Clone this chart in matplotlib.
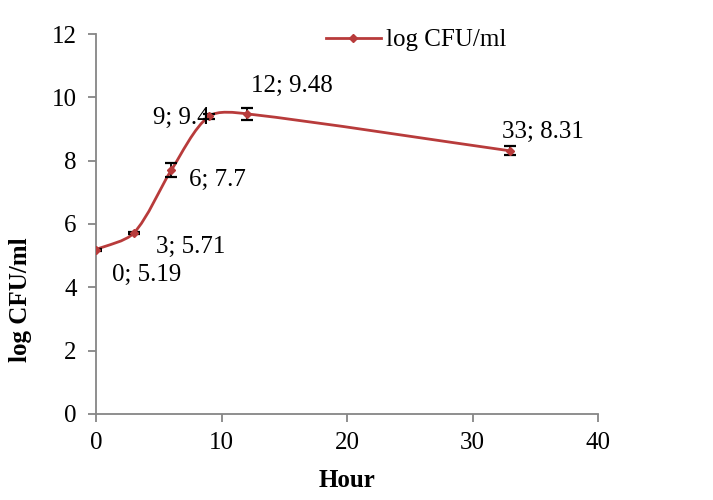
import numpy as np
import matplotlib
matplotlib.use("Agg")
import matplotlib.pyplot as plt
from matplotlib.path import Path
from matplotlib.patches import PathPatch
from matplotlib.lines import Line2D

# data
hours = [0, 3, 6, 9, 12, 33]
log_cfu = [5.19, 5.71, 7.7, 9.4, 9.48, 8.31]
err = [0.03, 0.04, 0.22, 0.08, 0.18, 0.14]
point_labels = ["0; 5.19", "3; 5.71", "6; 7.7", "9; 9.4", "12; 9.48", "33; 8.31"]
label_offsets = [(51, -25), (57, -14), (46, -10), (-28, -2), (45, 28), (33, 19)]

red = "#B83B3B"
grey = "#868686"
fs = 18

plt.rcParams["font.family"] = ["Liberation Serif", "DejaVu Serif"]
plt.rcParams["font.size"] = fs

fig = plt.figure(figsize=(7.13, 5.0), dpi=100)
ax = fig.add_axes([96 / 713, 86 / 500, 502 / 713, 380 / 500])
ax.set_xlim(0, 40)
ax.set_ylim(0, 12)
ax.set_xticks([0, 10, 20, 30, 40])
ax.set_yticks([0, 2, 4, 6, 8, 10, 12])

# smoothed line like the spreadsheet "smoothed line" option (bezier through points)
sx, sy = 502 / 40, 380 / 12
P = np.column_stack([np.array(hours) * sx, np.array(log_cfu) * sy])
n = len(P)
verts = [P[0]]
codes = [Path.MOVETO]
def tangent(i):
    a = P[max(i - 1, 0)]
    b = P[min(i + 1, n - 1)]
    d = b - a
    return d / np.hypot(*d)
tension = 0.85
for i in range(n - 1):
    seg = np.hypot(*(P[i + 1] - P[i])) / 3.0 * tension
    c1 = P[i] + tangent(i) * seg
    c2 = P[i + 1] - tangent(i + 1) * seg
    verts += [c1, c2, P[i + 1]]
    codes += [Path.CURVE4] * 3
verts = np.array(verts) / np.array([sx, sy])
ax.add_patch(PathPatch(Path(verts, codes), facecolor="none", edgecolor=red, lw=2.0, zorder=3))

ax.errorbar(hours, log_cfu, yerr=err, fmt="none", ecolor="black", elinewidth=1.3,
            capsize=4.5, capthick=1.6, zorder=4)
ax.plot(hours, log_cfu, linestyle="none", marker="D", markersize=4.5, color=red, zorder=5)

for x, y, t, off in zip(hours, log_cfu, point_labels, label_offsets):
    ax.annotate(t, (x, y), xytext=off, textcoords="offset pixels",
                ha="center", va="center", fontsize=fs, zorder=6)

for side in ["top", "right"]:
    ax.spines[side].set_visible(False)
for side in ["left", "bottom"]:
    ax.spines[side].set_color(grey)
    ax.spines[side].set_linewidth(1.3)
ax.tick_params(axis="both", colors=grey, length=6, width=1.3, labelcolor="black")
ax.tick_params(axis="x", pad=7)
ax.tick_params(axis="y", pad=8)

ax.set_xlabel("Hour", fontweight="bold", fontsize=fs)
ax.set_ylabel("log CFU/ml", fontweight="bold", fontsize=fs)
ax.xaxis.label.set_va("center")
ax.yaxis.label.set_va("center")
ax.xaxis.set_label_coords(0.5, -0.174)
ax.yaxis.set_label_coords(-0.151, 0.30)

handle = Line2D([], [], color=red, lw=2.0, marker="D", markersize=4.5)
ax.legend([handle], ["log CFU/ml"], loc="center", bbox_to_anchor=((416 - 96) / 502, (414 - 40) / 380),
          frameon=False, handlelength=2.2, handletextpad=0.2, fontsize=fs)

fig.savefig("out.png", dpi=100)
